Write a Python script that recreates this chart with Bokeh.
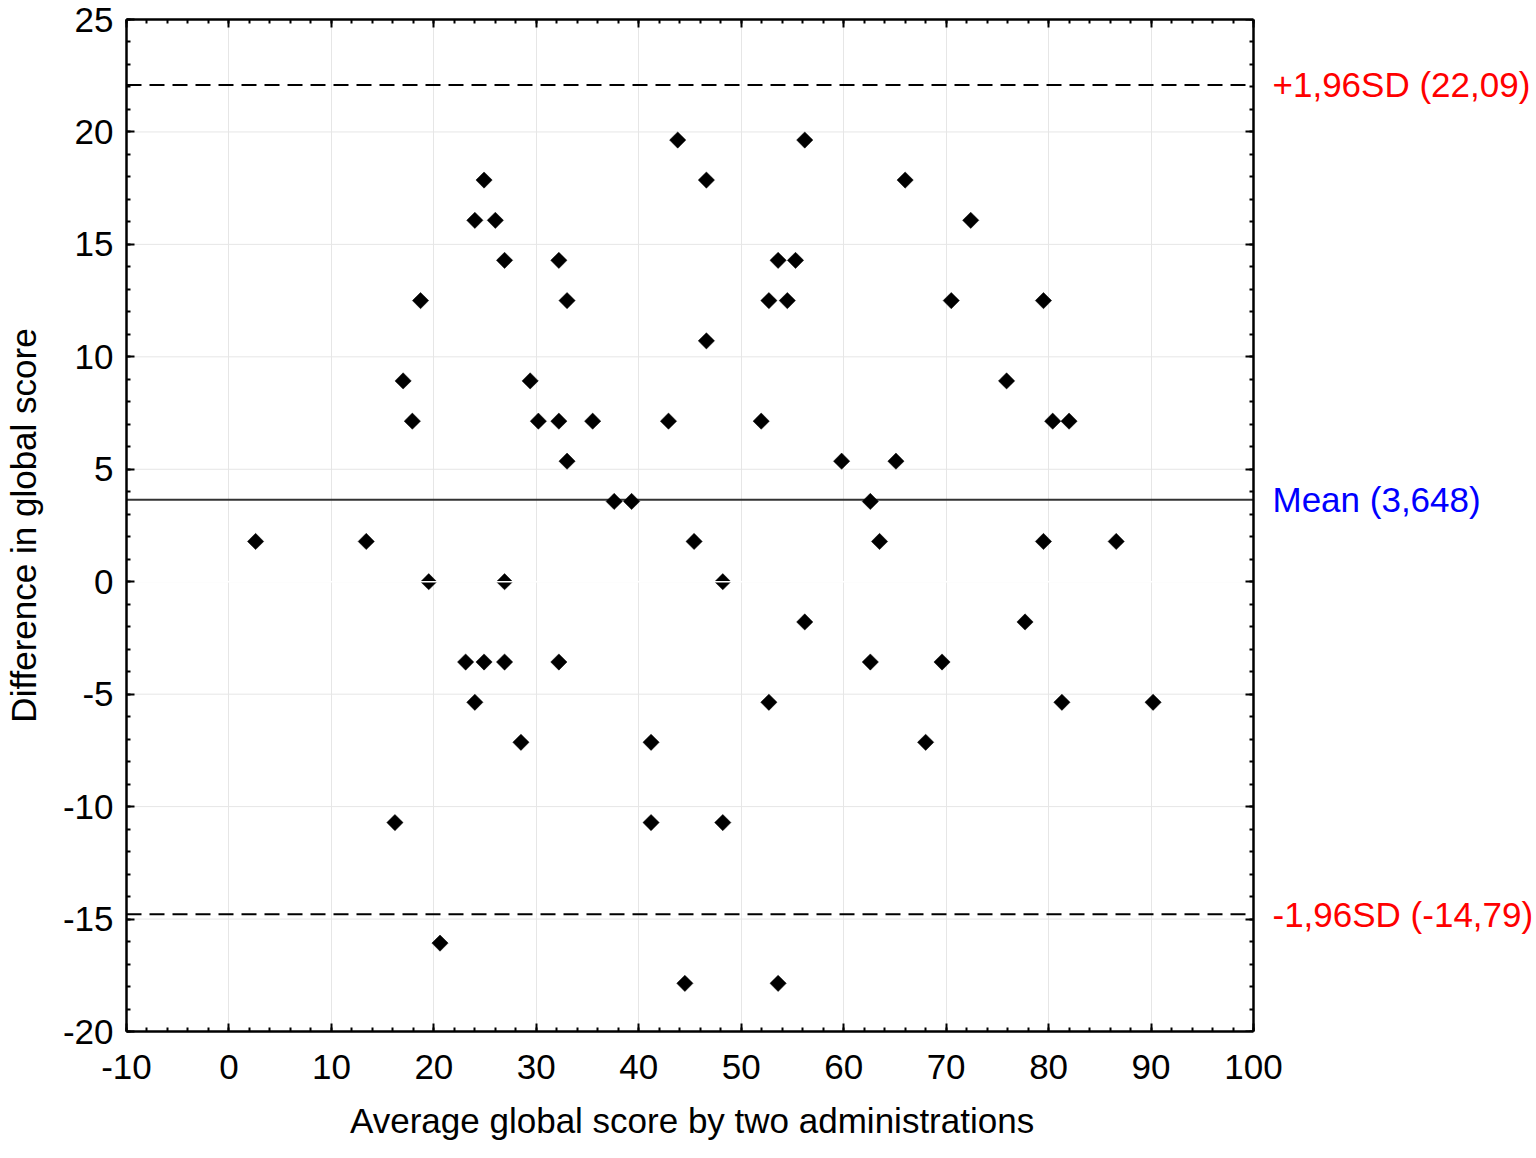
import math
from bokeh.plotting import figure
from bokeh.models import (FixedTicker, LinearAxis, Range1d, Title,
                          CustomJSTickFormatter, ColumnDataSource)
from bokeh.core.properties import value
from bokeh.embed import file_html
from bokeh.resources import INLINE

# ---- data ----
avg_score = [2.6, 13.4, 16.2, 17.0, 17.9, 18.7, 19.5, 20.6, 23.1, 24.0,
             24.0, 24.9, 24.9, 26.0, 26.9, 26.9, 26.9, 28.5, 29.4, 30.2,
             32.2, 32.2, 32.2, 33.0, 33.0, 35.5, 37.6, 39.3, 41.2, 41.2,
             42.9, 43.8, 44.5, 45.4, 46.6, 46.6, 48.2, 48.2, 51.95, 52.7,
             52.7, 53.6, 53.6, 54.5, 55.3, 56.2, 56.2, 59.8, 62.6, 62.6,
             63.5, 65.1, 66.0, 68.0, 69.6, 70.5, 72.4, 75.9, 77.7, 79.5,
             79.5, 80.4, 81.3, 82.0, 86.6, 90.2]
diff_score = [1.79, 1.79, -10.71, 8.93, 7.14, 12.5, 0.0, -16.07, -3.57, 16.07,
              -5.36, 17.86, -3.57, 16.07, 14.29, 0.0, -3.57, -7.14, 8.93, 7.14,
              14.29, 7.14, -3.57, 12.5, 5.36, 7.14, 3.57, 3.57, -7.14, -10.71,
              7.14, 19.64, -17.86, 1.79, 17.86, 10.71, 0.0, -10.71, 7.14, 12.5,
              -5.36, 14.29, -17.86, 12.5, 14.29, 19.64, -1.79, 5.36, 3.57, -3.57,
              1.79, 5.36, 17.86, -7.14, -3.57, 12.5, 16.07, 8.93, -1.79, 12.5,
              1.79, 7.14, -5.36, 7.14, 1.79, -5.36]

mean_diff = 3.648
upper_limit = 22.09
lower_limit = -14.79
limit_labels = ["+1,96SD (22,09)", "Mean (3,648)", "-1,96SD (-14,79)"]
limit_values = [upper_limit, mean_diff, lower_limit]
limit_colors = ["#ff0000", "#0000ff", "#ff0000"]

x_ticks = list(range(-10, 101, 10))
x_minor = list(range(-10, 101, 2))
y_ticks = list(range(-20, 26, 5))
y_minor = list(range(-20, 26, 1))

x_title = "Average global score by two administrations"
y_title = "Difference in global score"

FONT = "Liberation Sans"

# ---- layout (pixels) ----
W, H = 1536, 1158
LEFT, TOP, BOTTOM, RIGHT = 126, 19, 127, 0
BOX_W = 1253 - 126                       # width of the drawn box (x from -10 to 100)
X0, X1 = x_ticks[0], x_ticks[-1]
px_per_unit = BOX_W / (X1 - X0)
x_end = X0 + (W - LEFT - RIGHT) / px_per_unit   # frame runs on to the right edge

p = figure(width=W, height=H, output_backend="svg", toolbar_location=None,
           x_range=Range1d(X0, x_end), y_range=Range1d(-20, 25),
           min_border_left=LEFT, min_border_right=RIGHT,
           min_border_top=TOP, min_border_bottom=BOTTOM)

p.outline_line_color = None
p.background_fill_color = "white"
p.border_fill_color = "white"

GRID = "#e6e6e6"
p.xgrid.ticker = FixedTicker(ticks=x_ticks)
p.xgrid.grid_line_color = GRID
p.ygrid.visible = False
# horizontal grid lines only inside the box
p.segment(x0=[X0] * len(y_ticks), x1=[X1] * len(y_ticks), y0=y_ticks, y1=y_ticks,
          line_color=GRID, line_width=1)

def style_axis(ax, ticks, minor, show_labels=True):
    ax.ticker = FixedTicker(ticks=ticks, minor_ticks=minor)
    ax.axis_line_color = "black"
    ax.axis_line_width = 2.5
    ax.major_tick_in = 8
    ax.major_tick_out = 0
    ax.minor_tick_in = 4
    ax.minor_tick_out = 0
    ax.major_tick_line_color = "black"
    ax.minor_tick_line_color = "black"
    ax.major_tick_line_width = 2
    ax.minor_tick_line_width = 2
    if show_labels:
        ax.formatter = CustomJSTickFormatter(code="return tick.toString()")
        ax.major_label_text_font = FONT
        ax.major_label_text_font_size = "35px"
        ax.major_label_text_color = "black"
        ax.axis_label_text_font = FONT
        ax.axis_label_text_font_size = "35px"
        ax.axis_label_text_font_style = "normal"
        ax.axis_label_text_color = "black"
    else:
        ax.formatter = CustomJSTickFormatter(code="return ''")
        ax.major_label_text_font_size = "0px"
        ax.major_label_standoff = 0

xa = p.xaxis[0]
style_axis(xa, x_ticks, x_minor)
xa.bounds = (X0, X1)
xa.major_label_standoff = 23

ya = p.yaxis[0]
style_axis(ya, y_ticks, y_minor)
ya.axis_label = y_title
ya.major_label_standoff = 13
ya.axis_label_standoff = 17

# x title centred under the box (not under the wider frame)
x_title_w = 680
p.add_layout(Title(text=x_title, align="left", offset=BOX_W / 2 - x_title_w / 2,
                   standoff=35, text_font=FONT, text_font_size="35px",
                   text_font_style="normal", text_color="black",
                   text_baseline="top"), "below")

top_ax = LinearAxis()
style_axis(top_ax, x_ticks, x_minor, show_labels=False)
top_ax.bounds = (X0, X1)
p.add_layout(top_ax, "above")

right_ax = LinearAxis(fixed_location=X1)
style_axis(right_ax, y_ticks, y_minor, show_labels=False)
p.add_layout(right_ax, "right")

# reference lines (inside the box only)
p.segment(x0=[X0, X0], x1=[X1, X1], y0=[upper_limit, lower_limit],
          y1=[upper_limit, lower_limit], line_color="black", line_width=2,
          line_dash="15 8")
p.segment(x0=[X0], x1=[X1], y0=[mean_diff], y1=[mean_diff],
          line_color="#333333", line_width=2)

# points
src = ColumnDataSource(dict(x=avg_score, y=diff_score))
p.scatter("x", "y", source=src, marker="square", angle=math.pi / 4, size=11.5,
          fill_color="black", line_color="black", line_width=0.5)

# white line through points at zero (as in reference)
p.segment(x0=[X0], x1=[X1], y0=[0], y1=[0], line_color="white", line_width=1.5)

# limit labels right of the box
lab_src = ColumnDataSource(dict(x=[X1] * 3, y=limit_values,
                                text=limit_labels, color=limit_colors))
p.text("x", "y", text="text", source=lab_src, text_color="color",
       x_offset=19, text_font=value(FONT), text_font_size="35px",
       text_baseline="middle", text_align="left")

open("out.html", "w").write(file_html(p, INLINE))
